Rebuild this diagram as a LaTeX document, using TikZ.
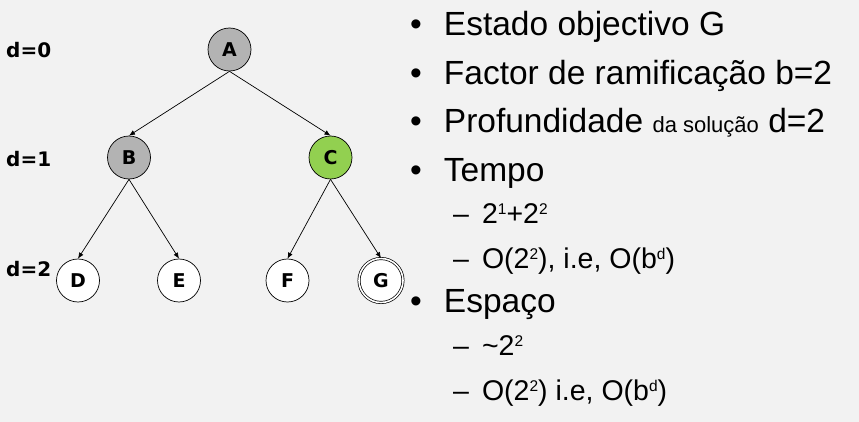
\documentclass[tikz,border=0pt]{standalone}
\usepackage{fontspec}
\setmainfont{Liberation Sans}
\newfontfamily\labelfont{DejaVu Sans}
\usetikzlibrary{arrows.meta}
\definecolor{bg}{HTML}{F2F2F2}
\definecolor{visited}{HTML}{B3B3B3}
\definecolor{current}{HTML}{92D050}
\newcommand{\sq}[1]{\raisebox{8.5pt}{\fontsize{15.5}{15.5}\selectfont #1}}
\begin{document}
\begin{tikzpicture}[x=1pt,y=-1pt,
  state/.style={circle,draw=black,line width=0.7pt,minimum size=43pt,inner sep=0pt,
    font=\labelfont\bfseries\fontsize{19}{19}\selectfont},
  goal/.style={state,double=white,double distance=1.6pt,minimum size=44pt},
  depth/.style={anchor=base west,inner sep=0pt,font=\labelfont\bfseries\fontsize{20}{20}\selectfont},
  edge/.style={-{Latex[length=6pt,width=5pt]},line width=0.7pt},
  item/.style={anchor=base west,inner sep=0pt,font=\fontsize{33.5}{33.5}\selectfont},
  subitem/.style={anchor=base west,inner sep=0pt,font=\fontsize{28.5}{28.5}\selectfont}]
\fill[bg] (0,0) rectangle (859,422);
\useasboundingbox (0,0) rectangle (859,422);

% search tree
\node[state,fill=visited] (A) at (229.5,49.5) {A};
\node[state,fill=visited] (B) at (129,157.5) {B};
\node[state,fill=current] (C) at (330.5,157.5) {C};
\node[state,fill=white] (D) at (78,280.5) {D};
\node[state,fill=white] (E) at (179,280.5) {E};
\node[state,fill=white] (F) at (287.5,280.5) {F};
\node[goal,fill=white] (G) at (381,280.5) {G};

\draw[edge] (A.south) -- (B.north);
\draw[edge] (A.south) -- (C.north);
\draw[edge] (B.south) -- (D.north);
\draw[edge] (B.south) -- (E.north);
\draw[edge] (C.south) -- (F.north);
\draw[edge] (C.south) -- (G.north);

% depth labels
\node[depth] (d0) at (6,57.5) {d=0};
\node[depth] (d1) at (6,166.5) {d=1};
\node[depth] (d2) at (6,276) {d=2};

% bullet list
\node[item] (b1) at (410,36) {•\hspace{22pt}Estado objectivo G};
\node[item] (b2) at (410,85) {•\hspace{22pt}Factor de ramificação b=2};
\node[item] (b3) at (410,133) {•\hspace{22pt}Profundidade {\fontsize{22}{22}\selectfont da solução} d=2};
\node[item] (b4) at (410,182) {•\hspace{22pt}Tempo};
\node[subitem] (s1) at (453,223) {–\hspace{13pt}2\sq{1}+2\sq{2}};
\node[subitem] (s2) at (453,268) {–\hspace{13pt}O(2\sq{2}), i.e, O(b\sq{d})};
\node[item] (b5) at (410,312) {•\hspace{22pt}Espaço};
\node[subitem] (s3) at (453,355) {–\hspace{13pt}\char"007E 2\sq{2}};
\node[subitem] (s4) at (453,400) {–\hspace{13pt}O(2\sq{2}) i.e, O(b\sq{d})};
\end{tikzpicture}
\end{document}
